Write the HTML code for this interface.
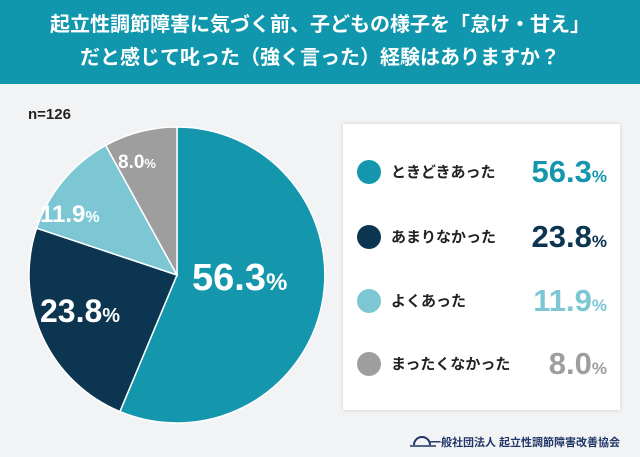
<!DOCTYPE html><html><head><meta charset="utf-8"><style>
body{margin:0;width:640px;height:457px;overflow:hidden;background:#f2f3f4;font-family:"Liberation Sans","Noto Sans CJK JP",sans-serif;position:relative}
.hdr{position:absolute;left:0;top:0;width:640px;height:84px;background:#1197ad;color:#fff;font-weight:bold;font-size:20px;text-align:center;line-height:33px;padding-top:9px;box-sizing:border-box}
.n{position:absolute;left:28px;top:106px;font-weight:bold;font-size:15px;color:#222}
.box{position:absolute;left:343px;top:124px;width:277px;height:286px;background:#fff;box-shadow:0 0 4px rgba(0,0,0,.15)}
.row{position:absolute;left:0;width:277px;height:40px}
.dot{position:absolute;left:14px;top:8px;width:24px;height:24px;border-radius:50%}
.lab{position:absolute;left:48px;top:9px;font-size:15px;font-weight:bold;color:#222}
.val{position:absolute;right:13px;top:0;font-size:31px;font-weight:bold;line-height:40px}
.val small{font-size:17px}
.foot{position:absolute;left:430px;top:434px;font-size:11px;font-weight:bold;color:#1f3568}
</style></head><body>
<div class="hdr">起立性調節障害に気づく前、子どもの様子を「怠け・甘え」<br>だと感じて叱った（強く言った）経験はありますか？</div>
<div class="n">n=126</div>
<svg width="640" height="457" style="position:absolute;left:0;top:0">
<g stroke="#fff" stroke-width="1.5">
<path d="M177 275 L177 127 A148 148 0 1 1 119.9 411.6Z" fill="#1496ad"/>
<path d="M177 275 L119.9 411.6 A148 148 0 0 1 36.6 228.2Z" fill="#0b3550"/>
<path d="M177 275 L36.6 228.2 A148 148 0 0 1 105.7 145.4Z" fill="#7cc7d3"/>
<path d="M177 275 L105.7 145.4 A148 148 0 0 1 177 127Z" fill="#9e9e9e"/>
</g>
<g font-family="Liberation Sans,sans-serif" font-weight="bold" fill="#fff">
<text x="192" y="290" font-size="38">56.3<tspan font-size="24">%</tspan></text>
<text x="40" y="322" font-size="32">23.8<tspan font-size="20">%</tspan></text>
<text x="40" y="222" font-size="24">11.9<tspan font-size="16">%</tspan></text>
<text x="118" y="168" font-size="19">8.0<tspan font-size="13">%</tspan></text>
</g>
</svg>
<div class="box">
<div class="row" style="top:28px"><div class="dot" style="background:#1496ad"></div><div class="lab">ときどきあった</div><div class="val" style="color:#1496ad">56.3<small>%</small></div></div>
<div class="row" style="top:93px"><div class="dot" style="background:#0b3550"></div><div class="lab">あまりなかった</div><div class="val" style="color:#0b3550">23.8<small>%</small></div></div>
<div class="row" style="top:157px"><div class="dot" style="background:#7cc7d3"></div><div class="lab">よくあった</div><div class="val" style="color:#7cc7d3">11.9<small>%</small></div></div>
<div class="row" style="top:220px"><div class="dot" style="background:#9e9e9e"></div><div class="lab">まったくなかった</div><div class="val" style="color:#9e9e9e">8.0<small>%</small></div></div>
</div>
<div class="foot">一般社団法人 起立性調節障害改善協会</div>
<svg width="30" height="12" style="position:absolute;left:410px;top:435px"><path d="M4 10 A8 8 0 0 1 20 10" fill="none" stroke="#1f3568" stroke-width="2"/><line x1="0" y1="11" x2="26" y2="11" stroke="#1f3568" stroke-width="1.5"/></svg>
</body></html>
